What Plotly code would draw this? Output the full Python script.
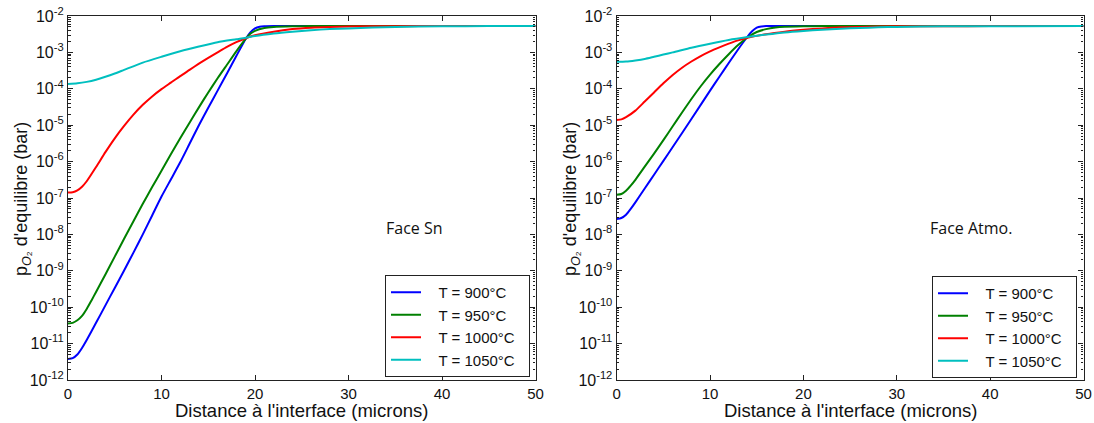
import plotly.graph_objects as go

# ---------------- data (log10 of equilibrium pO2, bar) ----------------
temps = ["T = 900°C", "T = 950°C", "T = 1000°C", "T = 1050°C"]
colors = ["#0000ff", "#008000", "#ff0000", "#00bfbf"]

# Face Sn (left panel)
sn_900_x = [0, 0.5, 1, 1.5, 2, 3, 4, 5, 6, 7, 8, 9, 10, 11, 12, 13, 14, 15, 16, 17, 18, 19, 19.5, 20, 20.5, 21, 22, 24, 30, 40, 50]
sn_900_y = [-11.42, -11.40, -11.30, -11.12, -10.9, -10.43, -9.95, -9.47, -8.99, -8.5, -8.0, -7.48, -6.96, -6.49, -6.02, -5.51, -5.0, -4.52, -4.05, -3.58, -3.1, -2.63, -2.45, -2.34, -2.295, -2.282, -2.276, -2.275, -2.275, -2.275, -2.275]
sn_950_x = [0, 0.5, 1, 1.5, 2, 2.5, 3, 4, 5, 6, 7, 8, 9, 10, 11, 12, 13, 14, 15, 16, 17, 18, 19, 19.5, 20, 21, 22, 24, 26, 30, 40, 50]
sn_950_y = [-10.45, -10.43, -10.36, -10.24, -10.05, -9.82, -9.58, -9.1, -8.61, -8.12, -7.64, -7.16, -6.7, -6.25, -5.8, -5.36, -4.93, -4.51, -4.1, -3.71, -3.34, -2.97, -2.63, -2.49, -2.41, -2.33, -2.3, -2.282, -2.276, -2.275, -2.275, -2.275]
sn_1000_x = [0, 0.5, 1, 1.5, 2, 3, 4, 5, 6, 7, 8, 9, 10, 11, 12, 13, 14, 15, 16, 17, 18, 19, 20, 22, 24, 26, 28, 30, 35, 40, 50]
sn_1000_y = [-6.85, -6.84, -6.79, -6.69, -6.54, -6.15, -5.74, -5.36, -5.02, -4.71, -4.44, -4.21, -4.01, -3.83, -3.65, -3.48, -3.31, -3.15, -3.0, -2.85, -2.72, -2.61, -2.53, -2.43, -2.36, -2.32, -2.3, -2.29, -2.28, -2.276, -2.275]
sn_1050_x = [0, 1, 2, 3, 4, 5, 6, 8, 10, 12, 14, 16, 18, 19, 20, 22, 24, 26, 28, 30, 35, 40, 45, 50]
sn_1050_y = [-3.87, -3.85, -3.81, -3.75, -3.67, -3.58, -3.48, -3.28, -3.12, -2.97, -2.84, -2.72, -2.64, -2.6, -2.55, -2.48, -2.43, -2.39, -2.36, -2.34, -2.3, -2.285, -2.278, -2.275]

# Face Atmo. (right panel)
at_900_x = [0, 0.5, 1, 1.5, 2, 3, 4, 5, 6, 8, 10, 11, 12, 13, 14, 14.5, 15, 15.5, 16, 17, 30, 40, 50]
at_900_y = [-7.58, -7.55, -7.46, -7.3, -7.12, -6.74, -6.36, -5.98, -5.6, -4.83, -4.05, -3.67, -3.29, -2.92, -2.57, -2.42, -2.32, -2.288, -2.278, -2.275, -2.275, -2.275, -2.275]
at_950_x = [0, 0.5, 1, 1.5, 2, 3, 4, 5, 6, 7, 8, 9, 10, 11, 12, 13, 14, 15, 16, 17, 18, 20, 22, 30, 40, 50]
at_950_y = [-6.91, -6.89, -6.8, -6.66, -6.5, -6.14, -5.78, -5.41, -5.03, -4.65, -4.28, -3.93, -3.61, -3.32, -3.05, -2.8, -2.59, -2.44, -2.36, -2.315, -2.295, -2.282, -2.277, -2.275, -2.275, -2.275]
at_1000_x = [0, 0.5, 1, 2, 3, 4, 5, 6, 7, 8, 9, 10, 11, 12, 13, 14, 16, 18, 20, 22, 24, 26, 30, 35, 40, 50]
at_1000_y = [-4.86, -4.84, -4.78, -4.6, -4.35, -4.1, -3.85, -3.62, -3.42, -3.25, -3.1, -2.97, -2.86, -2.76, -2.67, -2.6, -2.5, -2.43, -2.38, -2.34, -2.31, -2.3, -2.285, -2.28, -2.277, -2.275]
at_1050_x = [0, 1, 2, 3, 4, 5, 6, 8, 10, 12, 14, 16, 18, 20, 22, 24, 26, 28, 30, 35, 40, 50]
at_1050_y = [-3.26, -3.25, -3.22, -3.18, -3.12, -3.06, -3.0, -2.87, -2.76, -2.66, -2.58, -2.51, -2.45, -2.41, -2.38, -2.35, -2.33, -2.31, -2.3, -2.285, -2.28, -2.275]

y_tick_exp = [-12, -11, -10, -9, -8, -7, -6, -5, -4, -3, -2]
x_ticks = [0, 10, 20, 30, 40, 50]
panel_notes = ["Face Sn", "Face Atmo."]
x_title = "Distance à l'interface (microns)"
y_title = "p<sub><i>O</i>₂</sub> d'equilibre (bar)"

left_series = [(sn_900_x, sn_900_y), (sn_950_x, sn_950_y), (sn_1000_x, sn_1000_y), (sn_1050_x, sn_1050_y)]
right_series = [(at_900_x, at_900_y), (at_950_x, at_950_y), (at_1000_x, at_1000_y), (at_1050_x, at_1050_y)]

# ---------------- figure ----------------
FONT = "Liberation Sans, Arial, sans-serif"
PAD = "\u00a0\u00a0\u00a0"
TAIL = "\u00a0\u00a0"
fig = go.Figure()

for i, (sx, sy) in enumerate(left_series):
    fig.add_trace(go.Scatter(x=sx, y=[10 ** v for v in sy], mode="lines",
                             line=dict(color=colors[i], width=2, shape="spline", smoothing=0.6),
                             name=PAD + temps[i] + TAIL, xaxis="x", yaxis="y", legend="legend"))
for i, (sx, sy) in enumerate(right_series):
    fig.add_trace(go.Scatter(x=sx, y=[10 ** v for v in sy], mode="lines",
                             line=dict(color=colors[i], width=2, shape="spline", smoothing=0.6),
                             name=PAD + temps[i] + TAIL, xaxis="x2", yaxis="y2", legend="legend2"))

W, H = 1094, 423
top, bottom = 16, 380


def px(v):
    return v / W


def py(v):
    return (bottom - v) / (bottom - top)


xaxis_common = dict(range=[0, 50], tickvals=x_ticks, ticks="inside", ticklen=5, tickwidth=1, tickcolor="#222",
                    showline=True, linecolor="#222", linewidth=1.3, mirror="allticks", showgrid=False, zeroline=False,
                    automargin=False, ticklabeloverflow="allow",
                    tickfont=dict(family=FONT, size=15, color="#111"))
yaxis_common = dict(type="log", range=[-12, -2], tickvals=[10 ** e for e in y_tick_exp],
                    ticktext=["10<sup>%d</sup>" % e for e in y_tick_exp],
                    ticks="inside", ticklen=5, tickwidth=1, tickcolor="#222",
                    minor=dict(ticks="inside", ticklen=2.5, tickcolor="#222", dtick="D1", showgrid=False),
                    showline=True, linecolor="#222", linewidth=1.3, mirror="allticks", showgrid=False, zeroline=False,
                    automargin=False, ticklabeloverflow="allow",
                    tickfont=dict(family=FONT, size=16, color="#111"))

legend_common = dict(xanchor="left", yanchor="top", bordercolor="#222", borderwidth=1, bgcolor="white",
                     tracegroupgap=0, font=dict(family=FONT, size=15, color="#111"), itemwidth=30)

fig.update_layout(
    width=W, height=H,
    margin=dict(l=0, r=0, t=top, b=H - bottom),
    paper_bgcolor="white", plot_bgcolor="white",
    xaxis=dict(domain=[px(68), px(535.5)], anchor="y", **xaxis_common),
    yaxis=dict(domain=[0, 1], anchor="x", **yaxis_common),
    xaxis2=dict(domain=[px(616.7), px(1083.5)], anchor="y2", **xaxis_common),
    yaxis2=dict(domain=[0, 1], anchor="x2", **yaxis_common),
    legend=dict(x=px(385), y=py(275), **legend_common),
    legend2=dict(x=px(932), y=py(276), **legend_common),
    showlegend=True,
)

# axis titles placed as annotations (window pixel positions)
for cx in (301.5, 850):
    fig.add_annotation(x=px(cx), y=py(411), xref="paper", yref="paper", text=x_title, showarrow=False,
                       xanchor="center", yanchor="middle", font=dict(family=FONT, size=18.5, color="#111"))
for cx in (22, 571):
    fig.add_annotation(x=px(cx), y=py(199), xref="paper", yref="paper", text=y_title, showarrow=False,
                       textangle=-90, xanchor="center", yanchor="middle", font=dict(family=FONT, size=18, color="#111"))

fig.add_annotation(x=px(384), y=py(228), xref="paper", yref="paper", text=panel_notes[0],
                   showarrow=False, xanchor="left", yanchor="middle",
                   font=dict(family="Open Sans, sans-serif", size=16, color="#111"))
fig.add_annotation(x=px(928), y=py(228), xref="paper", yref="paper", text=panel_notes[1],
                   showarrow=False, xanchor="left", yanchor="middle",
                   font=dict(family="Open Sans, sans-serif", size=16, color="#111"))

fig.write_html("out.html", config={"displayModeBar": False},
               post_script="document.body.style.margin='0px';")
